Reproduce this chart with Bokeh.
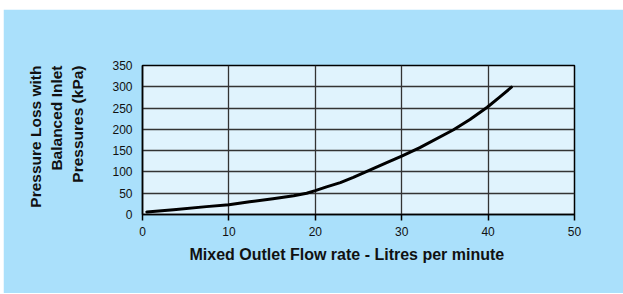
from bokeh.plotting import figure
from bokeh.models import Range1d, FixedTicker, Title, Spacer
from bokeh.layouts import column, row
from bokeh.embed import file_html
from bokeh.resources import INLINE

# Data
flow = [0.5, 3.6, 7.4, 10, 12.4, 15.1, 17.5, 19, 20, 21.3, 22.9, 24.4, 28.2, 30,
        32.1, 36, 37.9, 39.9, 41.3, 42.7]
pressure = [6, 11, 18.5, 23, 30, 37, 44, 50, 56, 65, 75, 87, 121, 137,
            157, 199, 223, 252, 275, 299]
x_ticks = [0, 10, 20, 30, 40, 50]
y_ticks = [0, 50, 100, 150, 200, 250, 300, 350]
x_title = "Mixed Outlet Flow rate - Litres per minute"
y_title_lines = ["Pressure Loss with", "Balanced Inlet", "Pressures (kPa)"]

BG = "#aae0fb"
FRAME = "#e0f3fd"
FONT = "Liberation Sans"

p = figure(width=620, height=284, output_backend="svg", toolbar_location=None,
           x_range=Range1d(0, 50), y_range=Range1d(0, 350),
           min_border_left=139, min_border_right=49, min_border_top=56, min_border_bottom=79)
p.background_fill_color = FRAME
p.border_fill_color = BG
p.outline_line_color = "black"
p.outline_line_width = 1.5

p.line(flow, pressure, line_color="black", line_width=3, line_join="round", line_cap="round")

p.xaxis.ticker = FixedTicker(ticks=x_ticks)
p.yaxis.ticker = FixedTicker(ticks=y_ticks)
for ax in (p.xaxis, p.yaxis):
    ax.axis_line_color = "black"
    ax.axis_line_width = 1.5
    ax.major_tick_line_color = "black"
    ax.major_tick_line_width = 1.5
    ax.minor_tick_line_color = None
    ax.major_label_text_font = FONT
    ax.major_label_text_font_size = "12px"
    ax.major_label_text_color = "#111111"
p.xaxis.major_tick_in = 0
p.xaxis.major_tick_out = 6
p.xaxis.major_label_standoff = 6
p.yaxis.major_tick_in = 0
p.yaxis.major_tick_out = 0
p.yaxis.major_label_standoff = 10

p.xgrid.ticker = FixedTicker(ticks=x_ticks)
p.ygrid.ticker = FixedTicker(ticks=y_ticks)
for g in (p.xgrid, p.ygrid):
    g.grid_line_color = "#333333"
    g.grid_line_width = 1.3

# x-axis title
p.add_layout(Title(text=x_title, align="left", offset=47, text_font=FONT,
                   text_font_style="bold", text_font_size="16px", text_color="#111111",
                   standoff=10), "below")

# y-axis title: a small gap, then three lines, nearest to the axis first
p.add_layout(Title(text=" ", text_font_size="1px", standoff=20), "left")
for txt in reversed(y_title_lines):
    p.add_layout(Title(text=txt, align="right", text_font=FONT, text_font_style="bold",
                       text_font_size="15.5px", text_color="#111111", standoff=2), "left")

layout = column(Spacer(height=9), row(Spacer(width=3), p))
open("out.html", "w").write(file_html(layout, INLINE))
